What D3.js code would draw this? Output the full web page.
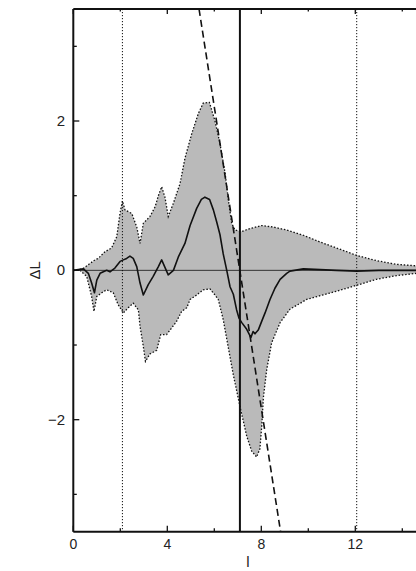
<!DOCTYPE html>
<html lang="en">

<head>
    <meta charset="UTF-8">
    <title>delta L chart</title>
    <script src="https://cdn.jsdelivr.net/npm/d3@7"></script>
    <style>
        body {
            margin: 0;
            background-color: #fff;
            font-family: "Liberation Sans", Arial, sans-serif;
        }
    </style>
</head>

<body>
</body>

<script>
    let width = 416;
    let height = 571;

    // upper edge of the grey band
    let upperL = [0, 0.4, 0.92, 1.06, 1.35, 1.63, 1.85, 1.99, 2.09, 2.2, 2.49, 2.7, 2.84, 2.98, 3.26, 3.48, 3.62,
        3.76, 3.9, 4.04, 4.26, 4.54, 4.75, 5.04, 5.32, 5.53, 5.79, 6.03, 6.24, 6.46, 6.6, 6.74, 6.88, 7.17, 7.52,
        8.02, 8.51, 9.08, 9.79, 10.5, 11.2, 12.06, 12.9, 13.76, 14.6];
    let upperY = [0, 0.02, 0.14, 0.16, 0.25, 0.3, 0.45, 0.77, 0.93, 0.81, 0.76, 0.58, 0.36, 0.63, 0.72, 0.85, 1.0,
        1.12, 0.98, 0.72, 0.9, 1.16, 1.5, 1.83, 2.1, 2.24, 2.25, 2.0, 1.7, 1.3, 0.94, 0.63, 0.54, 0.52, 0.56,
        0.6, 0.58, 0.54, 0.47, 0.38, 0.3, 0.2, 0.13, 0.08, 0.06];

    // lower edge of the grey band
    let lowerL = [0, 0.28, 0.57, 0.78, 0.88, 1.0, 1.21, 1.42, 1.7, 1.91, 2.13, 2.34, 2.55, 2.77, 2.84, 2.98, 3.07,
        3.26, 3.55, 3.72, 3.97, 4.19, 4.4, 4.61, 4.83, 4.97, 5.25, 5.53, 5.82, 6.03, 6.17, 6.24, 6.38, 6.6, 6.81,
        7.09, 7.38, 7.59, 7.8, 7.94, 8.02, 8.09, 8.23, 8.44, 8.8, 9.22, 9.93, 10.5, 11.2, 12.06, 12.9, 13.76, 14.6];
    let lowerY = [0, 0, -0.08, -0.35, -0.55, -0.35, -0.3, -0.26, -0.3, -0.46, -0.57, -0.5, -0.44, -0.53, -0.75,
        -1.02, -1.22, -1.12, -1.07, -0.86, -0.86, -0.77, -0.68, -0.55, -0.5, -0.39, -0.33, -0.26, -0.25, -0.33,
        -0.39, -0.48, -0.66, -1.04, -1.4, -1.82, -2.22, -2.42, -2.5, -2.39, -2.08, -1.7, -1.33, -0.97, -0.7, -0.52,
        -0.39, -0.34, -0.28, -0.2, -0.12, -0.07, -0.04];

    // mean curve
    let meanL = [0, 0.43, 0.64, 0.78, 0.9, 1.0, 1.14, 1.28, 1.42, 1.56, 1.77, 1.99, 2.13, 2.27, 2.41, 2.55, 2.7,
        2.84, 2.98, 3.19, 3.4, 3.62, 3.76, 4.04, 4.26, 4.47, 4.75, 4.97, 5.25, 5.45, 5.6, 5.8, 5.96, 6.1, 6.24,
        6.38, 6.53, 6.67, 6.81, 6.95, 7.05, 7.17, 7.38, 7.56, 7.65, 7.73, 7.87, 8.02, 8.16, 8.37, 8.58, 8.8, 9.08,
        9.22, 9.79, 10.5, 11.2, 12.06, 13.0, 14.6];
    let meanY = [0, 0.02, -0.04, -0.17, -0.3, -0.13, -0.04, -0.02, 0, -0.02, 0.03, 0.12, 0.14, 0.16, 0.19, 0.16,
        0.05, -0.17, -0.33, -0.19, -0.08, 0.05, 0.14, -0.06, 0, 0.18, 0.36, 0.6, 0.83, 0.95, 0.98, 0.95, 0.81, 0.65,
        0.48, 0.22, 0, -0.22, -0.32, -0.53, -0.64, -0.7, -0.79, -0.9, -0.82, -0.85, -0.8, -0.68, -0.57, -0.39,
        -0.24, -0.12, -0.04, -0.01, 0.02, 0.01, 0, -0.01, 0, 0];

    // dashed straight line
    let dashL = [5.35, 8.82];
    let dashY = [3.5, -3.5];

    // vertical marker lines
    let dottedMarks = [2.09, 12.06];
    let solidMark = 7.09;

    let xMajor = [0, 4, 8, 12];
    let xMinor = [2, 6, 10, 14];
    let yMajor = [-2, 0, 2];
    let yMinor = [-3, -1, 1, 3];

    let x = d3.scaleLinear().domain([0, 15]).range([73.3, 425.8]);
    let y = d3.scaleLinear().domain([-3.5, 3.5]).range([531.7, 9]);

    let svg = d3.select("body").append("svg")
        .attr("width", width)
        .attr("height", height);

    svg.append("defs").append("clipPath").attr("id", "plot")
        .append("rect")
        .attr("x", x(0)).attr("y", y(3.5))
        .attr("width", x(15) - x(0)).attr("height", y(-3.5) - y(3.5));

    let plot = svg.append("g").attr("clip-path", "url(#plot)");

    let lineOf = function (ls, ys) {
        return d3.line().x(function (d) { return x(ls[d]); }).y(function (d) { return y(ys[d]); })(d3.range(ls.length));
    };

    // band polygon: upper edge then lower edge backwards
    let bandPts = upperL.map(function (l, i) { return [l, upperY[i]]; })
        .concat(lowerL.map(function (l, i) { return [l, lowerY[i]]; }).reverse());
    plot.append("path")
        .attr("d", d3.line().x(function (d) { return x(d[0]); }).y(function (d) { return y(d[1]); })(bandPts) + "Z")
        .attr("fill", "#bababa");

    // dotted band edges
    [[upperL, upperY], [lowerL, lowerY]].forEach(function (p) {
        plot.append("path")
            .attr("d", lineOf(p[0], p[1]))
            .attr("fill", "none")
            .attr("stroke", "#111")
            .attr("stroke-width", 1.3)
            .attr("stroke-dasharray", "1.5,1.8");
    });

    // zero line
    plot.append("line")
        .attr("x1", x(0)).attr("x2", x(15))
        .attr("y1", y(0)).attr("y2", y(0))
        .attr("stroke", "#333").attr("stroke-width", 1);

    // dotted verticals
    plot.selectAll(".vdot")
        .data(dottedMarks)
        .enter().append("line")
        .attr("x1", function (d) { return x(d); }).attr("x2", function (d) { return x(d); })
        .attr("y1", y(3.5)).attr("y2", y(-3.5))
        .attr("stroke", "#111").attr("stroke-width", 1)
        .attr("stroke-dasharray", "1.2,1.8");

    // solid vertical
    plot.append("line")
        .attr("x1", x(solidMark)).attr("x2", x(solidMark))
        .attr("y1", y(3.5)).attr("y2", y(-3.5))
        .attr("stroke", "#111").attr("stroke-width", 2);

    // mean curve
    plot.append("path")
        .attr("d", lineOf(meanL, meanY))
        .attr("fill", "none")
        .attr("stroke", "#111")
        .attr("stroke-width", 1.6)
        .attr("stroke-linejoin", "round");

    // dashed line
    plot.append("path")
        .attr("d", lineOf(dashL, dashY))
        .attr("fill", "none")
        .attr("stroke", "#111")
        .attr("stroke-width", 1.6)
        .attr("stroke-dasharray", "7,4");

    // frame + inward ticks
    let axes = svg.append("g").attr("stroke", "#111");
    axes.append("line").attr("x1", x(0)).attr("x2", x(15)).attr("y1", y(-3.5)).attr("y2", y(-3.5)).attr("stroke-width", 2);
    axes.append("line").attr("x1", x(0)).attr("x2", x(15)).attr("y1", y(3.5)).attr("y2", y(3.5)).attr("stroke-width", 2);
    axes.append("line").attr("x1", x(0)).attr("x2", x(0)).attr("y1", y(3.5)).attr("y2", y(-3.5)).attr("stroke-width", 2);

    let xTicks = xMajor.map(function (d) { return [d, 6]; }).concat(xMinor.map(function (d) { return [d, 3.5]; }));
    xTicks.forEach(function (t) {
        axes.append("line").attr("x1", x(t[0])).attr("x2", x(t[0]))
            .attr("y1", y(-3.5)).attr("y2", y(-3.5) - t[1]).attr("stroke-width", 1.3);
        axes.append("line").attr("x1", x(t[0])).attr("x2", x(t[0]))
            .attr("y1", y(3.5)).attr("y2", y(3.5) + t[1] - 1).attr("stroke-width", 1.3);
    });
    let yTicks = yMajor.map(function (d) { return [d, 6]; }).concat(yMinor.map(function (d) { return [d, 3.5]; }));
    yTicks.forEach(function (t) {
        axes.append("line").attr("x1", x(0)).attr("x2", x(0) + t[1])
            .attr("y1", y(t[0])).attr("y2", y(t[0])).attr("stroke-width", 1.3);
    });

    // tick labels
    svg.selectAll(".xl")
        .data(xMajor)
        .enter().append("text")
        .attr("x", function (d) { return x(d); })
        .attr("y", 549)
        .attr("text-anchor", "middle")
        .attr("font-size", 14)
        .attr("fill", "#222")
        .text(function (d) { return d; });

    svg.selectAll(".yl")
        .data(yMajor)
        .enter().append("text")
        .attr("x", 65)
        .attr("y", function (d) { return y(d) + 5; })
        .attr("text-anchor", "end")
        .attr("font-size", 15)
        .attr("fill", "#222")
        .text(function (d) { return d < 0 ? "\u2212" + Math.abs(d) : d; });

    // axis titles
    svg.append("text")
        .attr("x", 248).attr("y", 567)
        .attr("text-anchor", "middle")
        .attr("font-size", 15)
        .attr("fill", "#222")
        .text("l");

    svg.append("text")
        .attr("transform", "translate(40," + y(0) + ") rotate(-90)")
        .attr("text-anchor", "middle")
        .attr("font-size", 15)
        .attr("fill", "#222")
        .text("\u0394L");
</script>

</html>
